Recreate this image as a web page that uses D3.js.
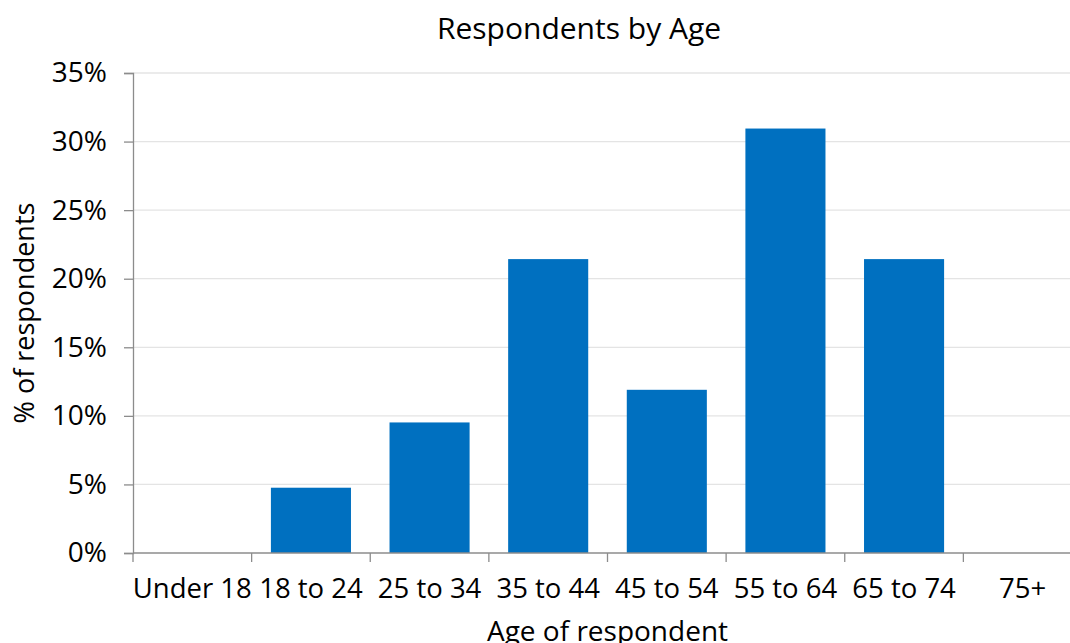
<!DOCTYPE html>
<html>
<head>
<meta charset="utf-8">
<script src="https://cdn.jsdelivr.net/npm/d3@7"></script>
<style>
  html, body { margin: 0; padding: 0; background: #fff; }
  svg { display: block; font-family: "Open Sans", Lato, sans-serif; }
</style>
</head>
<body>
<svg id="chart" width="1070" height="643"></svg>
<script>
// Survey respondents, share by age group
const categories = ["Under 18", "18 to 24", "25 to 34", "35 to 44", "45 to 54", "55 to 64", "65 to 74", "75+"];
const shares = [0, 0.0476, 0.0952, 0.2143, 0.1190, 0.3095, 0.2143, 0];
const yTicks = [0, 0.05, 0.10, 0.15, 0.20, 0.25, 0.30, 0.35];

const svg = d3.select("#chart");
const margin = { left: 133, top: 73, bottom: 90 };
const plotRight = 1082;           // last band runs past the right edge
const height = 643;
const y0 = height - margin.bottom; // 553

const x = d3.scaleBand()
  .domain(categories)
  .range([margin.left, plotRight])
  .paddingInner(0.325)
  .paddingOuter(0.1625);

const y = d3.scaleLinear()
  .domain([0, 0.35])
  .range([y0, margin.top]);

// horizontal gridlines
svg.append("g")
  .selectAll("line")
  .data(yTicks.slice(1))
  .join("line")
  .attr("x1", margin.left)
  .attr("x2", 1070)
  .attr("y1", d => y(d))
  .attr("y2", d => y(d))
  .attr("stroke", "#e4e4e4")
  .attr("stroke-width", 1.3);

// bars
svg.append("g")
  .selectAll("rect")
  .data(categories.map((c, i) => ({ c, v: shares[i] })))
  .join("rect")
  .attr("x", d => x(d.c))
  .attr("width", x.bandwidth())
  .attr("y", d => y(d.v))
  .attr("height", d => y0 - y(d.v))
  .attr("fill", "#0070c0");

// y axis
const yAxis = svg.append("g")
  .attr("transform", `translate(${margin.left},0)`)
  .call(d3.axisLeft(y).tickValues(yTicks).tickFormat(d3.format(".0%")).tickSize(9).tickPadding(17));
yAxis.select(".domain").attr("stroke", "#8c8c8c").attr("stroke-width", 1.3);
yAxis.selectAll(".tick line").attr("stroke", "#8c8c8c").attr("stroke-width", 1.3);
yAxis.selectAll(".tick text")
  .attr("font-size", 28)
  .attr("fill", "#000")
  .attr("font-family", "'Open Sans', sans-serif");

// x axis: ticks sit on band boundaries
const xAxisG = svg.append("g").attr("transform", `translate(0,${y0})`);
xAxisG.append("line")
  .attr("x1", margin.left).attr("x2", 1070)
  .attr("y1", 0).attr("y2", 0)
  .attr("stroke", "#8c8c8c").attr("stroke-width", 1.3);
const step = x.step();
const boundaries = categories.map((c, i) => margin.left + i * step);
xAxisG.selectAll("line.tick")
  .data(boundaries)
  .join("line")
  .attr("class", "tick")
  .attr("x1", d => d).attr("x2", d => d)
  .attr("y1", 0).attr("y2", 9)
  .attr("stroke", "#8c8c8c").attr("stroke-width", 1.3);
xAxisG.selectAll("text")
  .data(categories)
  .join("text")
  .attr("x", d => x(d) + x.bandwidth() / 2)
  .attr("y", 45)
  .attr("text-anchor", "middle")
  .attr("font-size", 27.5)
  .attr("fill", "#000")
  .text(d => d);

// titles
svg.append("text")
  .attr("x", 579).attr("y", 39)
  .attr("text-anchor", "middle")
  .attr("font-size", 30)
  .attr("fill", "#000")
  .text("Respondents by Age");

svg.append("text")
  .attr("x", (margin.left + plotRight) / 2).attr("y", 641)
  .attr("text-anchor", "middle")
  .attr("font-size", 28)
  .attr("fill", "#000")
  .text("Age of respondent");

svg.append("text")
  .attr("transform", `translate(34,${(margin.top + y0) / 2}) rotate(-90)`)
  .attr("text-anchor", "middle")
  .attr("font-size", 27)
  .attr("fill", "#000")
  .text("% of respondents");
</script>
</body>
</html>
